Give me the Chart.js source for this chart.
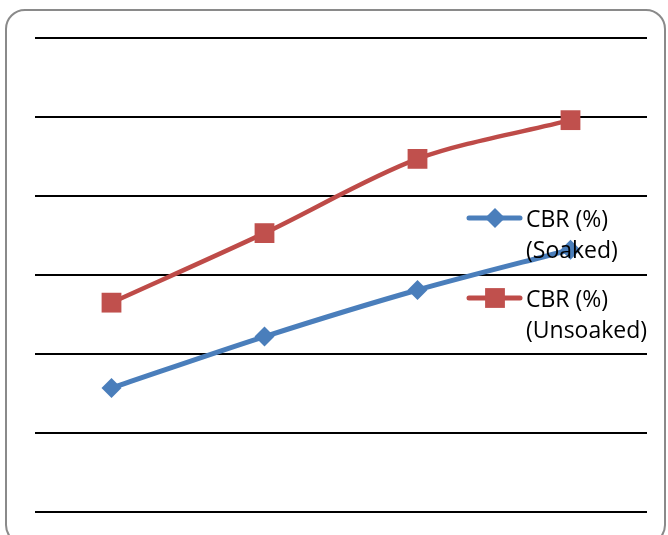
<!DOCTYPE html>
<html>
<head>
<meta charset="utf-8">
<script src="https://cdn.jsdelivr.net/npm/chart.js@4"></script>
<style>
  body { margin: 0; background: #fff; }
  #wrap { position: relative; width: 668px; height: 535px; overflow: hidden; }
  #frame {
    position: absolute; left: 5px; top: 9px; width: 661px; height: 536px;
    border: 2px solid #8a8a8a; border-radius: 20px; box-sizing: border-box;
  }
  canvas { position: absolute; left: 0; top: 0; }
</style>
</head>
<body>
<div id="wrap">
  <div id="frame"></div>
  <canvas id="graph" width="668" height="535"></canvas>
</div>
<script>
// values (y axis 0..60, no labels shown)
const categories = ["1", "2", "3", "4"];
const soaked = [15.7, 22.2, 28.1, 33.2];
const unsoaked = [26.5, 35.3, 44.7, 49.6];
const seriesNames = [["CBR (%)", "(Soaked)"], ["CBR (%)", "(Unsoaked)"]];

const blue = "#4a7ebb";
const red = "#be4b48";

// legend drawn on top of the plot, like the original
const overlayLegend = {
  id: "overlayLegend",
  afterDraw(chart) {
    const ctx = chart.ctx;
    const rows = [218, 298];
    ctx.save();
    chart.data.datasets.forEach((ds, i) => {
      const y = rows[i];
      ctx.strokeStyle = ds.borderColor;
      ctx.lineWidth = 5;
      ctx.lineCap = "round";
      ctx.beginPath();
      ctx.moveTo(469, y);
      ctx.lineTo(520, y);
      ctx.stroke();
      ctx.fillStyle = ds.pointBackgroundColor;
      ctx.strokeStyle = ds.pointBorderColor;
      Chart.helpers.drawPoint(ctx, {
        pointStyle: ds.pointStyle,
        radius: ds.pointRadius,
        borderWidth: 0
      }, 495, y);
      ctx.fillStyle = "#000";
      ctx.font = "23px 'Open Sans'";
      ctx.textBaseline = "alphabetic";
      ds.label.forEach((line, k) => {
        ctx.fillText(line, 526, y + 9 + k * 31);
      });
    });
    ctx.restore();
  }
};

new Chart(document.getElementById("graph").getContext("2d"), {
  type: "line",
  data: {
    labels: categories,
    datasets: [
      {
        label: seriesNames[0],
        data: soaked,
        borderColor: blue,
        backgroundColor: blue,
        pointBackgroundColor: blue,
        pointBorderColor: blue,
        borderWidth: 5,
        pointStyle: "rectRot",
        pointRadius: 10,
        pointBorderWidth: 0,
        tension: 0.3,
        fill: false
      },
      {
        label: seriesNames[1],
        data: unsoaked,
        borderColor: red,
        backgroundColor: "#c0504d",
        pointBackgroundColor: "#c0504d",
        pointBorderColor: "#c0504d",
        borderWidth: 4.5,
        pointStyle: "rect",
        pointRadius: 14,
        pointBorderWidth: 0,
        tension: 0.3,
        fill: false
      }
    ]
  },
  options: {
    responsive: false,
    animation: false,
    layout: { padding: { left: 35, right: 21, top: 38, bottom: 23 } },
    plugins: {
      legend: { display: false },
      tooltip: { enabled: false }
    },
    scales: {
      x: {
        display: false,
        offset: true
      },
      y: {
        min: 0,
        max: 60,
        ticks: { stepSize: 10, display: false },
        border: { display: false },
        grid: { color: "#000", lineWidth: 2, drawTicks: false }
      }
    }
  },
  plugins: [overlayLegend]
});
</script>
</body>
</html>
